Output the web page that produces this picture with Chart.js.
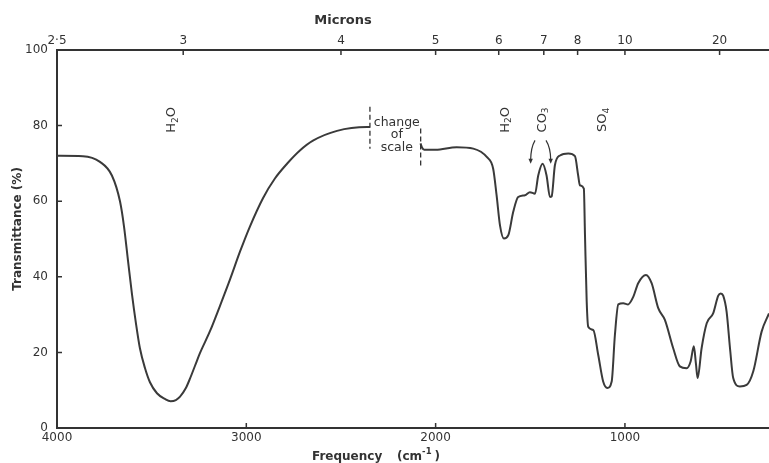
<!DOCTYPE html>
<html>
<head>
<meta charset="utf-8">
<script src="https://cdn.jsdelivr.net/npm/chart.js@4.4.1/dist/chart.umd.min.js"></script>
<style>
  html, body { margin: 0; padding: 0; background: #fff; }
  #wrap { width: 769px; height: 463px; }
</style>
</head>
<body>
<div id="wrap"><canvas id="spectrum" width="769" height="463"></canvas></div>
<script>
// trace: wavenumber (cm-1) -> transmittance (%)
// null marks the break at the change of scale
const wavenumbers = [
  4000, 3863, 3773, 3710, 3667, 3646, 3625, 3604, 3583, 3562, 3535, 3509, 3472, 3430, 3400,
  3372, 3350, 3320, 3298, 3270, 3245, 3192, 3140, 3086, 3033, 2981, 2912, 2849, 2785, 2717, 2648,
  2521, 2363, 2347,
  2200,
  2080, 2072, 2060, 2000, 1889, 1801, 1730, 1696, 1678, 1660, 1639, 1616, 1590, 1564, 1528,
  1502, 1475, 1458, 1435, 1414, 1396, 1387, 1370, 1343, 1299, 1264, 1247, 1238, 1217, 1211,
  1202, 1194, 1167, 1141, 1115, 1093, 1070, 1053, 1035, 1009, 983, 956, 930, 889, 859, 824,
  789, 745, 710, 674, 653, 636, 625, 616, 595, 568, 534, 507, 494, 481, 463, 445, 428, 393, 357,
  322, 278, 239
];
const transmittance = [
  72, 71.9, 70.4, 66.8, 59.9, 53.3, 44.3, 35.4, 27.7, 21.1, 15.8, 12.1, 9.2, 7.7, 7.1,
  7.4, 8.3, 10.5, 13, 16.6, 19.8, 25.6, 32.2, 39.3, 46.7, 53.3, 60.8, 66, 69.9, 73.4, 76,
  78.6, 79.6, 79.6,
  null,
  75.3, 74.2, 73.6, 73.6, 74.3, 73.9, 71.7, 68.6, 61.6, 53.6, 50.1, 51, 57.2, 61.1, 61.6,
  62.4, 62, 66.8, 69.9, 66.8, 61.1, 61.3, 69.5, 72.1, 72.6, 71.9, 66.8, 64.2, 63.3, 51,
  33.5, 26.8, 25.9, 19.3, 12.3, 10.6, 12.3, 24.6, 32.7, 33, 32.7, 34.7, 38.3, 40.5, 38.3, 31.7,
  28.6, 21.1, 16.3, 15.8, 17.6, 21.6, 17, 13.2, 21.1, 27.7, 30.3, 35, 35.6, 35, 30.8, 21.1, 13.2, 11, 11.4,
  15, 25.5, 30.3
];

const freqTicks = [4000, 3000, 2000, 1000];
const micronTicks = [2.5, 3, 4, 5, 6, 7, 8, 10, 20];
const micronLabels = ['2·5', '3', '4', '5', '6', '7', '8', '10', '20'];
const transTicks = [0, 20, 40, 60, 80, 100];

// band labels: text pieces [text, isSubscript] and the wavenumber they sit over
const bandLabels = [
  { parts: [['H', 0], ['2', 1], ['O', 0]], at: 3403 },
  { parts: [['H', 0], ['2', 1], ['O', 0]], at: 1639 },
  { parts: [['CO', 0], ['3', 1]], at: 1444 },
  { parts: [['SO', 0], ['4', 1]], at: 1126 }
];
const bandLabelLevel = 81.5;

// CO3 arrows: start, bend, tip (wavenumber, %)
const co3Arrows = [
  [[1475, 76.1], [1497, 74.2], [1498, 69.9]],
  [[1417, 76.1], [1393, 74.2], [1392, 69.9]]
];

// change of scale markers
const scaleBreaks = [
  { at: 2347, from: 73.9, to: 85 },
  { at: 2079, from: 69.4, to: 79.2 }
];

const INK = '#333';
const FONT = '"DejaVu Sans", sans-serif';

function chemLabel(ctx, parts, cx, cy) {
  ctx.save();
  ctx.translate(cx, cy);
  ctx.rotate(-Math.PI / 2);
  const big = '13px ' + FONT, small = '9px ' + FONT;
  let w = 0;
  parts.forEach(([t, sub]) => { ctx.font = sub ? small : big; w += ctx.measureText(t).width; });
  let px = -w / 2;
  ctx.textAlign = 'left';
  ctx.textBaseline = 'alphabetic';
  parts.forEach(([t, sub]) => {
    ctx.font = sub ? small : big;
    ctx.fillText(t, px, sub ? 7.5 : 4.7);
    px += ctx.measureText(t).width;
  });
  ctx.restore();
}

const decorations = {
  id: 'decorations',
  afterDraw(chart) {
    const { ctx, chartArea: area, scales: { x, y } } = chart;
    ctx.save();
    ctx.strokeStyle = INK;
    ctx.fillStyle = INK;

    // tick marks pointing into the plot
    ctx.lineWidth = 1.5;
    ctx.beginPath();
    transTicks.forEach(v => {
      if (v > 0 && v < 100) {
        const py = y.getPixelForValue(v);
        ctx.moveTo(area.left, py); ctx.lineTo(area.left + 5, py);
      }
    });
    freqTicks.forEach(v => {
      const px = x.getPixelForValue(v);
      ctx.moveTo(px, area.bottom); ctx.lineTo(px, area.bottom - 5);
    });
    micronTicks.forEach(m => {
      const px = x.getPixelForValue(10000 / m);
      ctx.moveTo(px, area.top); ctx.lineTo(px, area.top + 5);
    });
    ctx.stroke();

    // change of scale
    ctx.lineWidth = 1.3;
    ctx.setLineDash([5, 3]);
    ctx.beginPath();
    scaleBreaks.forEach(b => {
      const px = x.getPixelForValue(b.at);
      ctx.moveTo(px, y.getPixelForValue(b.to));
      ctx.lineTo(px, y.getPixelForValue(b.from));
    });
    ctx.stroke();
    ctx.setLineDash([]);
    ctx.font = '12.5px ' + FONT;
    ctx.textAlign = 'center';
    ctx.textBaseline = 'alphabetic';
    const tx = x.getPixelForValue(2205), ty = y.getPixelForValue(80);
    ['change', 'of', 'scale'].forEach((t, i) => ctx.fillText(t, tx, ty + i * 12.7));

    // band labels
    bandLabels.forEach(b => chemLabel(ctx, b.parts, x.getPixelForValue(b.at), y.getPixelForValue(bandLabelLevel)));

    // CO3 arrows
    ctx.lineWidth = 1.2;
    co3Arrows.forEach(([s, c, e]) => {
      const sx = x.getPixelForValue(s[0]), sy = y.getPixelForValue(s[1]);
      const cxp = x.getPixelForValue(c[0]), cyp = y.getPixelForValue(c[1]);
      const ex = x.getPixelForValue(e[0]), ey = y.getPixelForValue(e[1]);
      ctx.beginPath();
      ctx.moveTo(sx, sy);
      ctx.quadraticCurveTo(cxp, cyp, ex, ey - 4);
      ctx.stroke();
      ctx.beginPath();
      ctx.moveTo(ex - 2.2, ey - 5);
      ctx.lineTo(ex + 2.2, ey - 5);
      ctx.lineTo(ex, ey);
      ctx.closePath();
      ctx.fill();
    });

    // axis titles
    ctx.textAlign = 'center';
    ctx.font = 'bold 13px ' + FONT;
    ctx.fillText('Microns', 343, 24);

    ctx.save();
    ctx.translate(18, 229);
    ctx.rotate(-Math.PI / 2);
    ctx.font = 'bold 12px ' + FONT;
    ctx.textBaseline = 'middle';
    ctx.fillText('Transmittance (%)', 0, 0);
    ctx.restore();

    ctx.textAlign = 'left';
    ctx.font = 'bold 12px ' + FONT;
    ctx.fillText('Frequency', 312, 460);
    let fx = 397;
    ctx.fillText('(cm', fx, 460);
    fx += ctx.measureText('(cm').width;
    ctx.font = 'bold 8.5px ' + FONT;
    ctx.fillText('-1', fx, 454);
    fx += ctx.measureText('-1').width + 3;
    ctx.font = 'bold 12px ' + FONT;
    ctx.fillText(')', fx, 460);

    ctx.restore();
  }
};

const points = wavenumbers.map((w, i) => ({ x: w, y: transmittance[i] }));

new Chart(document.getElementById('spectrum'), {
  type: 'line',
  data: {
    datasets: [{
      data: points,
      borderColor: '#3a3a3a',
      borderWidth: 2,
      pointRadius: 0,
      fill: false,
      spanGaps: false,
      cubicInterpolationMode: 'monotone'
    }]
  },
  options: {
    responsive: false,
    animation: false,
    devicePixelRatio: 1,
    layout: { padding: 0 },
    plugins: { legend: { display: false }, tooltip: { enabled: false } },
    scales: {
      x: {
        type: 'linear',
        position: 'bottom',
        reverse: true,
        min: 239,
        max: 4000,
        afterBuildTicks: s => { s.ticks = freqTicks.map(v => ({ value: v })); },
        afterFit: s => { s.height = 35; },
        ticks: {
          color: INK, font: { family: FONT, size: 12 }, padding: 3, maxRotation: 0, autoSkip: false,
          callback: v => String(v)
        },
        grid: { display: false, drawTicks: false },
        border: { color: INK, width: 2 }
      },
      x2: {
        type: 'linear',
        position: 'top',
        reverse: true,
        min: 239,
        max: 4000,
        afterBuildTicks: s => { s.ticks = micronTicks.map(m => ({ value: 10000 / m })); },
        afterFit: s => { s.height = 50; },
        ticks: {
          color: INK, font: { family: FONT, size: 12 }, padding: 2, maxRotation: 0, autoSkip: false,
          callback: (v, i) => micronLabels[i]
        },
        grid: { display: false, drawTicks: false },
        border: { color: INK, width: 2 }
      },
      y: {
        min: 0,
        max: 100,
        afterBuildTicks: s => { s.ticks = transTicks.map(v => ({ value: v })); },
        afterFit: s => { s.width = 57; },
        ticks: { color: INK, font: { family: FONT, size: 12 }, padding: 9, callback: v => String(v) },
        grid: { display: false, drawTicks: false },
        border: { color: INK, width: 2 }
      }
    }
  },
  plugins: [decorations]
});
</script>
</body>
</html>
